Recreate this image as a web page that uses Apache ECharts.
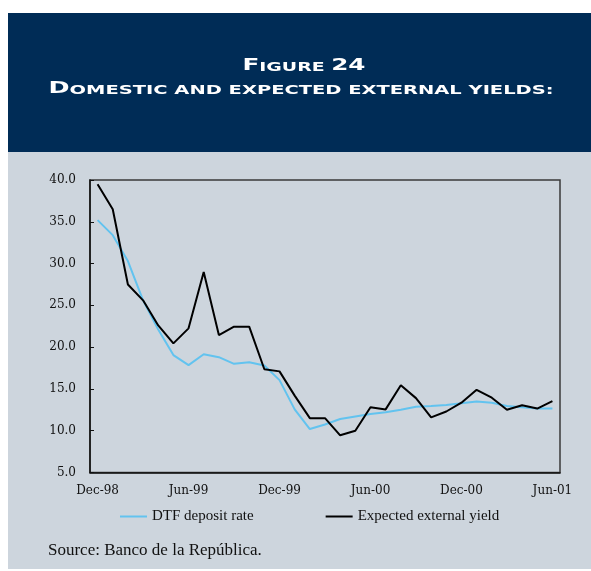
<!DOCTYPE html>
<html>
<head>
<meta charset="utf-8">
<script src="https://cdn.jsdelivr.net/npm/echarts@6/dist/echarts.min.js"></script>
<style>
html,body{margin:0;padding:0;background:#ffffff;}
#chart{width:591px;height:571px;}
</style>
</head>
<body>
<div id="chart"></div>
<script>
// ---- data ----
const categories = ['Dec-98','Jan-99','Feb-99','Mar-99','Apr-99','May-99','Jun-99','Jul-99','Aug-99','Sep-99','Oct-99','Nov-99',
  'Dec-99','Jan-00','Feb-00','Mar-00','Apr-00','May-00','Jun-00','Jul-00','Aug-00','Sep-00','Oct-00','Nov-00',
  'Dec-00','Jan-01','Feb-01','Mar-01','Apr-01','May-01','Jun-01'];
const dtfRate = [35.2,33.4,30.3,25.6,22.1,19.05,17.85,19.15,18.8,18.0,18.2,17.8,
  16.05,12.55,10.2,10.75,11.4,11.7,12.0,12.2,12.5,12.87,12.95,13.07,
  13.28,13.5,13.35,12.95,12.8,12.65,12.65];
const externalYield = [39.5,36.5,27.5,25.6,22.6,20.45,22.25,29.0,21.45,22.45,22.45,17.35,
  17.1,14.2,11.5,11.5,9.45,10.0,12.8,12.55,15.45,13.9,11.6,12.3,
  13.35,14.9,13.95,12.5,13.05,12.65,13.55];
const seriesNames = ['DTF deposit rate','Expected external yield'];
const yTicks = {min:5, max:40, step:5};
const titleLine1 = [['F','big'],['IGURE ','small'],['24','big']];
const titleLine2 = [['D','big'],['OMESTIC AND EXPECTED EXTERNAL YIELDS:','small']];
const sourceText = 'Source: Banco de la República.';

// ---- title helpers (emulate small caps, stretch to width) ----
const TFONT = "'DejaVu Sans'";
const sizes = {big:15, small:11.5};
const ctx = document.createElement('canvas').getContext('2d');
function measure(parts){
  let w = 0;
  parts.forEach(p=>{ ctx.font = 'bold ' + sizes[p[1]] + 'px ' + TFONT; w += ctx.measureText(p[0]).width; });
  return w;
}
function richText(parts){ return parts.map(p=>'{'+p[1]+'|'+p[0]+'}').join(''); }
const rich = {
  big:{fontSize:sizes.big, fontFamily:TFONT, fontWeight:'bold', fill:'#ffffff', verticalAlign:'bottom'},
  small:{fontSize:sizes.small, fontFamily:TFONT, fontWeight:'bold', fill:'#ffffff', verticalAlign:'bottom'}
};
function titleGroup(parts, cx, by, width){
  const s = width / measure(parts);
  return {type:'group', x:cx, y:by, scaleX:s, children:[
    {type:'text', style:{text:richText(parts), rich:rich, align:'center', verticalAlign:'bottom', fill:'#ffffff'}}
  ]};
}

const chart = echarts.init(document.getElementById('chart'), null, {renderer:'canvas'});
const option = {
  backgroundColor:'#ffffff',
  animation:false,
  graphic:[
    {type:'rect', z:-10, shape:{x:8, y:13, width:583, height:139}, style:{fill:'#002c56'}},
    {type:'rect', z:-10, shape:{x:8, y:152, width:583, height:417}, style:{fill:'#cdd5dd'}},
    titleGroup(titleLine1, 304, 74, 123),
    titleGroup(titleLine2, 301, 97, 505),
    {type:'text', left:48, top:542, style:{text:sourceText, font:"17px 'Liberation Serif'", fill:'#111111'}}
  ],
  grid:{left:90, top:180, right:31, bottom:98.5, show:true, borderColor:'#3a3a3a', borderWidth:1.5, backgroundColor:'transparent'},
  legend:{
    left:115, top:504, itemGap:72, itemWidth:27, itemHeight:2, icon:'rect',
    textStyle:{fontFamily:'Liberation Serif', fontSize:15, color:'#111'},
    data:seriesNames
  },
  xAxis:{
    type:'category', data:categories, boundaryGap:true,
    axisLine:{lineStyle:{color:'#111', width:1.5}},
    axisTick:{inside:true, length:4, interval:5, lineStyle:{color:'#111'}},
    axisLabel:{interval:5, margin:12, fontFamily:'DejaVu Serif', fontSize:12, color:'#111'},
    splitLine:{show:false}
  },
  yAxis:{
    type:'value', min:yTicks.min, max:yTicks.max, interval:yTicks.step,
    axisLine:{show:true, lineStyle:{color:'#111', width:1.5}},
    axisTick:{show:true, inside:true, length:4, lineStyle:{color:'#111'}},
    axisLabel:{margin:14, fontFamily:'DejaVu Serif', fontSize:12, color:'#111', formatter:v=>v.toFixed(1)},
    splitLine:{show:false}
  },
  series:[
    {name:seriesNames[0], type:'line', data:dtfRate, symbol:'none', color:'#62c3ef', lineStyle:{width:2, color:'#62c3ef'}},
    {name:seriesNames[1], type:'line', data:externalYield, symbol:'none', color:'#000000', lineStyle:{width:2, color:'#000000'}, z:3}
  ]
};
chart.setOption(option);
</script>
</body>
</html>
